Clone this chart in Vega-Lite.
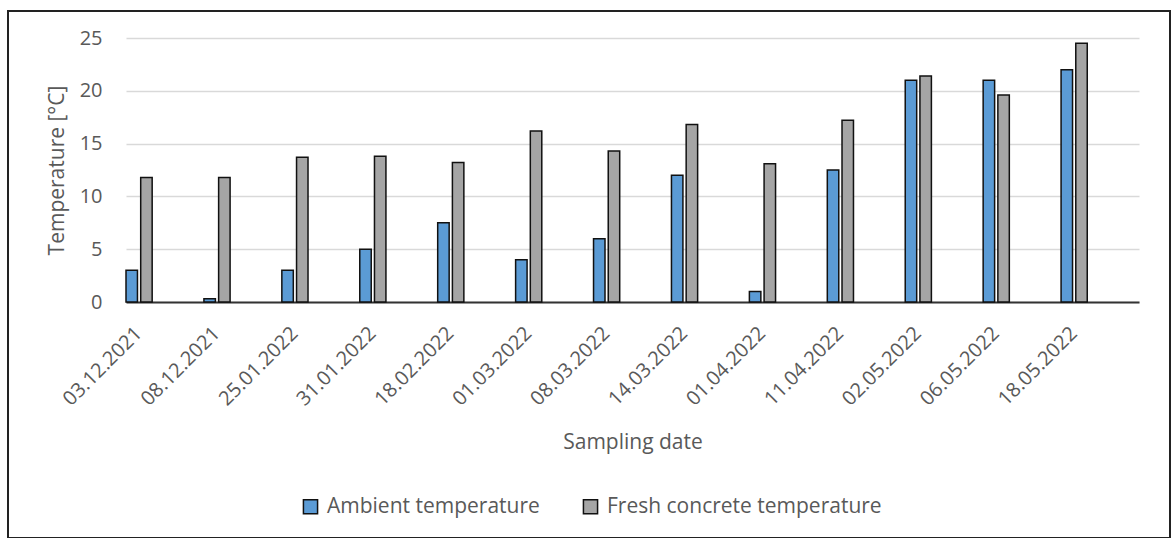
{
  "$schema": "https://vega.github.io/schema/vega-lite/v6.json",
  "width": 1162,
  "height": 527,
  "autosize": {"type": "none"},
  "padding": {"left": 8, "top": 11, "right": 2, "bottom": 0},
  "background": "white",
  "data": {
    "values": [
      {"date": "03.12.2021", "series": "Ambient temperature", "temp": 3},
      {"date": "03.12.2021", "series": "Fresh concrete temperature", "temp": 11.8},
      {"date": "08.12.2021", "series": "Ambient temperature", "temp": 0.3},
      {"date": "08.12.2021", "series": "Fresh concrete temperature", "temp": 11.8},
      {"date": "25.01.2022", "series": "Ambient temperature", "temp": 3},
      {"date": "25.01.2022", "series": "Fresh concrete temperature", "temp": 13.7},
      {"date": "31.01.2022", "series": "Ambient temperature", "temp": 5},
      {"date": "31.01.2022", "series": "Fresh concrete temperature", "temp": 13.8},
      {"date": "18.02.2022", "series": "Ambient temperature", "temp": 7.5},
      {"date": "18.02.2022", "series": "Fresh concrete temperature", "temp": 13.2},
      {"date": "01.03.2022", "series": "Ambient temperature", "temp": 4},
      {"date": "01.03.2022", "series": "Fresh concrete temperature", "temp": 16.2},
      {"date": "08.03.2022", "series": "Ambient temperature", "temp": 6},
      {"date": "08.03.2022", "series": "Fresh concrete temperature", "temp": 14.3},
      {"date": "14.03.2022", "series": "Ambient temperature", "temp": 12},
      {"date": "14.03.2022", "series": "Fresh concrete temperature", "temp": 16.8},
      {"date": "01.04.2022", "series": "Ambient temperature", "temp": 1},
      {"date": "01.04.2022", "series": "Fresh concrete temperature", "temp": 13.1},
      {"date": "11.04.2022", "series": "Ambient temperature", "temp": 12.5},
      {"date": "11.04.2022", "series": "Fresh concrete temperature", "temp": 17.2},
      {"date": "02.05.2022", "series": "Ambient temperature", "temp": 21},
      {"date": "02.05.2022", "series": "Fresh concrete temperature", "temp": 21.4},
      {"date": "06.05.2022", "series": "Ambient temperature", "temp": 21},
      {"date": "06.05.2022", "series": "Fresh concrete temperature", "temp": 19.6},
      {"date": "18.05.2022", "series": "Ambient temperature", "temp": 22},
      {"date": "18.05.2022", "series": "Fresh concrete temperature", "temp": 24.5}
    ]
  },
  "mark": {"type": "bar", "stroke": "#111111", "strokeWidth": 1.5},
  "encoding": {
    "x": {
      "field": "date",
      "type": "nominal",
      "sort": null,
      "scale": {"range": [118, 1131], "paddingInner": 0, "paddingOuter": 0},
      "axis": {
        "title": "Sampling date",
        "offset": -236,
        "labelAngle": -45,
        "labelAlign": "right",
        "labelBaseline": "middle",
        "labelOffset": -26,
        "labelPadding": 28,
        "ticks": false,
        "tickSize": 0,
        "domainColor": "#333333",
        "domainWidth": 2,
        "grid": false,
        "titlePadding": 22
      }
    },
    "xOffset": {
      "field": "series",
      "type": "nominal",
      "scale": {"domain": ["Ambient temperature", "Fresh concrete temperature", "_pad1", "_pad2"], "paddingInner": 0.22, "paddingOuter": 0.76, "align": 0}
    },
    "y": {
      "field": "temp",
      "type": "quantitative",
      "scale": {"domain": [0, 25], "range": [291, 27], "nice": false, "zero": true},
      "axis": {
        "title": "Temperature [°C]",
        "offset": -118,
        "values": [0, 5, 10, 15, 20, 25],
        "domain": false,
        "ticks": false,
        "tickSize": 0,
        "labelPadding": 24,
        "grid": true,
        "gridColor": "#D9D9D9",
        "gridWidth": 1.5,
        "titlePadding": 12
      }
    },
    "color": {
      "field": "series",
      "type": "nominal",
      "scale": {"domain": ["Ambient temperature", "Fresh concrete temperature"], "range": ["#5B9BD5", "#A5A5A5"]},
      "legend": {
        "title": null,
        "orient": "none",
        "legendX": 292,
        "legendY": 485,
        "direction": "horizontal",
        "symbolType": "square",
        "symbolSize": 200,
        "symbolStrokeColor": "#111111",
        "symbolStrokeWidth": 1.5,
        "symbolOpacity": 1,
        "labelFontSize": 21,
        "labelColor": "#595959",
        "labelFont": "Open Sans",
        "labelLimit": 0,
        "labelOffset": 6,
        "columnPadding": 40
      }
    }
  },
  "config": {
    "view": {"stroke": "#222222", "strokeWidth": 2},
    "font": "Open Sans",
    "axis": {
      "labelFont": "Open Sans",
      "titleFont": "Open Sans",
      "labelFontSize": 20,
      "titleFontSize": 21,
      "labelColor": "#595959",
      "titleColor": "#595959",
      "titleFontWeight": "normal"
    }
  }
}
